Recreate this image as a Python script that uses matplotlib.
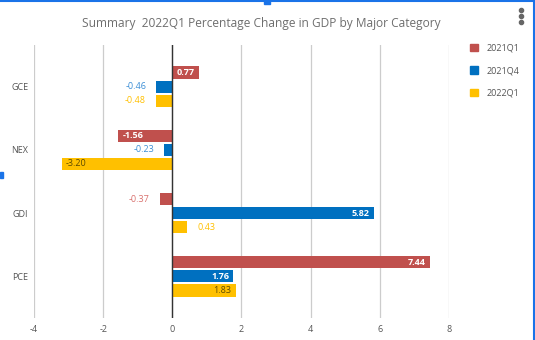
import numpy as np
import matplotlib.pyplot as plt
from matplotlib.lines import Line2D
from matplotlib.patches import Rectangle

# Data
categories = ['GCE', 'NEX', 'GDI', 'PCE']
series_names = ['2021Q1', '2021Q4', '2022Q1']
q2021q1 = [0.77, -1.56, -0.37, 7.44]
q2021q4 = [-0.46, -0.23, 5.82, 1.76]
q2022q1 = [-0.48, -3.20, 0.43, 1.83]

colors = ['#C0504D', '#0070C0', '#FFC000']
out_colors = ['#D9716E', '#3D8FD6', '#FFC000']
in_colors = ['white', 'white', '#5C4A00']
in_weights = ['bold', 'bold', 'normal']

plt.rcParams['font.family'] = ['Open Sans', 'DejaVu Sans']

fig = plt.figure(figsize=(5.35, 3.4), dpi=100)
ax = fig.add_axes([34 / 535, 22 / 340, (449 - 34) / 535, 273 / 340])

y = np.arange(len(categories))
bh = 0.19
off = 0.222
all_vals = [q2021q1, q2021q4, q2022q1]
for i, vals in enumerate(all_vals):
    ypos = y + (i - 1) * off
    ax.barh(ypos, vals, height=bh, color=colors[i], zorder=3)
    for yy, v in zip(ypos, vals):
        txt = f'{v:.2f}'
        if abs(v) >= 0.7:
            # label inside the bar end
            xt = v - 0.12 if v > 0 else v + 0.12
            ha = 'right' if v > 0 else 'left'
            ax.text(xt, yy, txt, ha=ha, va='center', fontsize=6.5,
                    color=in_colors[i], fontweight=in_weights[i], zorder=4)
        else:
            xt = v + 0.3 if v > 0 else v - 0.3
            ha = 'left' if v > 0 else 'right'
            ax.text(xt, yy, txt, ha=ha, va='center', fontsize=6.5,
                    color=out_colors[i], zorder=4)

span = 273 / 63.3 / 2
ax.set_ylim(1.5 + span, 1.5 - span)
ax.set_xlim(-4, 8)
ax.set_xticks([-4, -2, 0, 2, 4, 6, 8])
ax.set_xticklabels(['-4', '-2', '0', '2', '4', '6', '8'])
ax.set_yticks(y)
ax.set_yticklabels(categories)
ax.tick_params(axis='both', length=0, labelsize=6.5, colors='#555555')
ax.tick_params(axis='y', pad=4)
ax.tick_params(axis='x', pad=5)
for s in ax.spines.values():
    s.set_visible(False)
ax.grid(axis='x', color='#CCCCCC', lw=0.9, zorder=0)
ax.axvline(0, color='#333333', lw=1, zorder=5)

fig.text(261 / 535, 1 - 24 / 340, 'Summary  2022Q1 Percentage Change in GDP by Major Category',
         ha='center', va='center', fontsize=8.6, color='#6E6E6E')

# legend
handles = [Rectangle((0, 0), 1, 1, color=c) for c in colors]
fig.legend(handles, series_names, loc='upper left', bbox_to_anchor=(466 / 535, 1 - 40 / 340),
           frameon=False, fontsize=6.5, labelcolor='#555555', handlelength=0.9, handleheight=0.9,
           labelspacing=1.5, handletextpad=1.0, borderaxespad=0)

# selection frame and menu dots
fig.add_artist(Line2D([0, 1], [0.998, 0.998], transform=fig.transFigure, color='#1A73E8', lw=1.5))
fig.add_artist(Line2D([0.998, 0.998], [0, 1], transform=fig.transFigure, color='#1A73E8', lw=1.5))
fig.add_artist(Rectangle((264 / 535, 1 - 4 / 340), 6 / 535, 4 / 340, transform=fig.transFigure,
                         color='#1A73E8'))
fig.add_artist(Rectangle((0, 1 - 178 / 340), 3 / 535, 6 / 340, transform=fig.transFigure,
                         color='#1A73E8'))
for dy in [10, 16, 22]:
    fig.add_artist(Line2D([521 / 535], [1 - dy / 340], transform=fig.transFigure, marker='o',
                          color='#666666', markersize=3, lw=0))

fig.savefig('out.png', dpi=100)
